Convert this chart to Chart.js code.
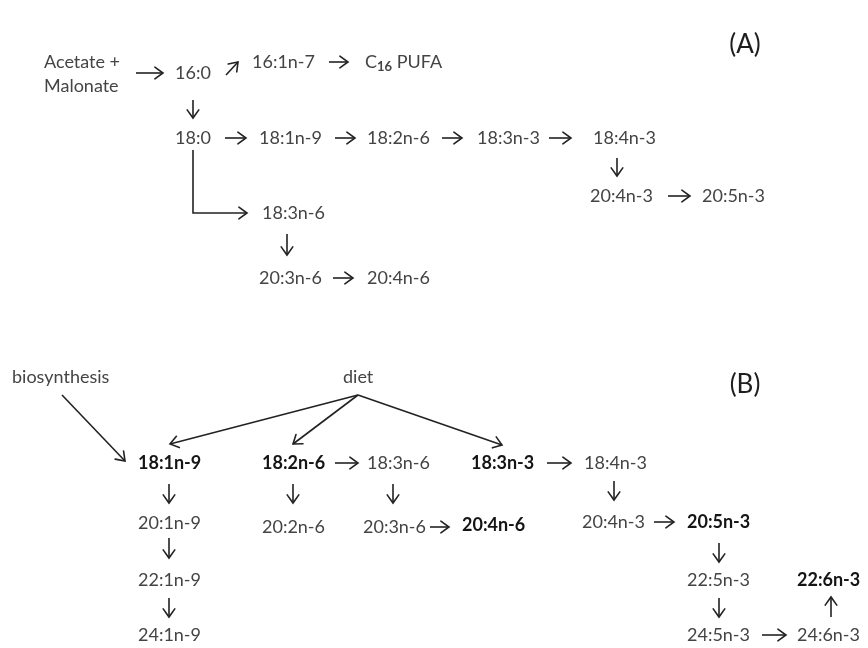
<!DOCTYPE html>
<html>
<head>
<meta charset="utf-8">
<script src="https://cdn.jsdelivr.net/npm/chart.js@4"></script>
<style>
html,body{margin:0;padding:0;background:#fff;}
canvas{display:block;}
</style>
</head>
<body>
<canvas id="c" width="868" height="648"></canvas>
<script>
// ---- Node labels (diagram coordinates: x = left edge, y = vertical centre) ----
const nodeText = [
  "Acetate +","Malonate","16:0","16:1n-7","C_16 PUFA","18:0","18:1n-9","18:2n-6","18:3n-3","18:4n-3",
  "20:4n-3","20:5n-3","18:3n-6","20:3n-6","20:4n-6",
  "biosynthesis","diet","18:1n-9","18:2n-6","18:3n-6","18:3n-3","18:4n-3",
  "20:1n-9","22:1n-9","24:1n-9","20:2n-6","20:3n-6","20:4n-6",
  "20:4n-3","20:5n-3","22:5n-3","24:5n-3","22:6n-3","24:6n-3"
];
const nodeX = [
  44,44,175,252,365,175,259,367,477,593,
  590,702,262,259,367,
  12,343,138,262,367,471,584,
  138,138,138,262,363,462,
  582,687,687,687,797,797
];
const nodeY = [
  62,86,73,62,62,138,138,138,138,138,
  196,196,213,278,278,
  377,377,463,463,463,463,463,
  523,580,635,527,527,525,
  522,522,580,635,580,635
];
const nodeBold = [
  0,0,0,0,0,0,0,0,0,0,
  0,0,0,0,0,
  0,0,1,1,0,1,0,
  0,0,0,0,0,1,
  0,1,0,0,1,0
];
// panel tags (centre x, centre y)
const panelText = ["(A)","(B)"];
const panelX = [745,745];
const panelY = [45,385];

// ---- Arrows: list of points, last point is the arrow tip ----
const arrows = [
  [[136,73],[163,73]],
  [[226,75],[238,62]],
  [[329,62],[348,62]],
  [[193,100],[193,118]],
  [[225,138],[246,138]],
  [[335,138],[355,138]],
  [[442,138],[462,138]],
  [[549,138],[571,138]],
  [[617,158],[617,176]],
  [[668,196],[690,196]],
  [[193,150],[193,213],[247,213]],
  [[287,234],[287,255]],
  [[333,278],[353,278]],
  [[62,395],[125,461]],
  [[358,395],[170,444]],
  [[358,395],[293,444]],
  [[358,395],[502,445]],
  [[169,484],[169,503]],
  [[169,538],[169,558]],
  [[169,598],[169,617]],
  [[293,484],[293,503]],
  [[335,463],[358,463]],
  [[393,484],[393,503]],
  [[430,527],[449,527]],
  [[547,463],[571,463]],
  [[614,481],[614,500]],
  [[654,522],[674,522]],
  [[719,543],[719,562]],
  [[719,598],[719,617]],
  [[762,635],[786,635]],
  [[831,617],[831,597]]
];

const FONT = 'Lato, "Noto Sans", sans-serif';
const datasets = arrows.map(pts => ({
  data: pts.map(p => ({x: p[0], y: p[1]})),
  showLine: true,
  borderColor: '#222',
  borderWidth: 1.6,
  pointRadius: 0,
  fill: false,
  tension: 0
}));
datasets.push({
  data: nodeX.map((x, i) => ({x: x, y: nodeY[i]})),
  showLine: false,
  pointRadius: 0
});

const drawPlugin = {
  id: 'diagram',
  afterDatasetsDraw(chart) {
    const ctx = chart.ctx;
    const xs = chart.scales.x, ys = chart.scales.y;
    // arrow heads
    ctx.save();
    ctx.strokeStyle = '#222';
    ctx.lineWidth = 1.6;
    ctx.lineCap = 'round';
    arrows.forEach((pts, i) => {
      const meta = chart.getDatasetMeta(i).data;
      const a = meta[meta.length - 2], b = meta[meta.length - 1];
      const ang = Math.atan2(b.y - a.y, b.x - a.x);
      const L = 10, spread = 0.62;
      ctx.beginPath();
      ctx.moveTo(b.x - L * Math.cos(ang - spread), b.y - L * Math.sin(ang - spread));
      ctx.lineTo(b.x, b.y);
      ctx.lineTo(b.x - L * Math.cos(ang + spread), b.y - L * Math.sin(ang + spread));
      ctx.stroke();
    });
    // labels
    ctx.textBaseline = 'middle';
    ctx.textAlign = 'left';
    nodeText.forEach((t, i) => {
      const px = xs.getPixelForValue(nodeX[i]);
      const py = ys.getPixelForValue(nodeY[i]);
      const bold = nodeBold[i];
      ctx.fillStyle = bold ? '#151515' : '#444';
      const f = (bold ? 'bold ' : '') + '18px ' + FONT;
      if (t.indexOf('_') >= 0) {
        const m = t.match(/^(.*)_(\d+)(.*)$/);
        ctx.font = f;
        ctx.fillText(m[1], px, py);
        let cx = px + ctx.measureText(m[1]).width;
        ctx.font = 'bold 13px ' + FONT;
        ctx.fillText(m[2], cx, py + 5);
        cx += ctx.measureText(m[2]).width;
        ctx.font = f;
        ctx.fillText(m[3], cx, py);
      } else {
        ctx.font = f;
        ctx.fillText(t, px, py);
      }
    });
    ctx.textAlign = 'center';
    ctx.fillStyle = '#1e1e1e';
    ctx.font = '26px ' + FONT;
    panelText.forEach((t, i) => {
      ctx.fillText(t, xs.getPixelForValue(panelX[i]), ys.getPixelForValue(panelY[i]));
    });
    ctx.restore();
  }
};

new Chart(document.getElementById('c'), {
  type: 'scatter',
  data: {datasets},
  options: {
    responsive: false,
    devicePixelRatio: 1,
    animation: false,
    layout: {padding: 0},
    plugins: {legend: {display: false}, tooltip: {enabled: false}},
    scales: {
      x: {type: 'linear', min: 0, max: 868, display: false},
      y: {type: 'linear', min: 0, max: 648, reverse: true, display: false}
    }
  },
  plugins: [drawPlugin]
});
</script>
</body>
</html>
